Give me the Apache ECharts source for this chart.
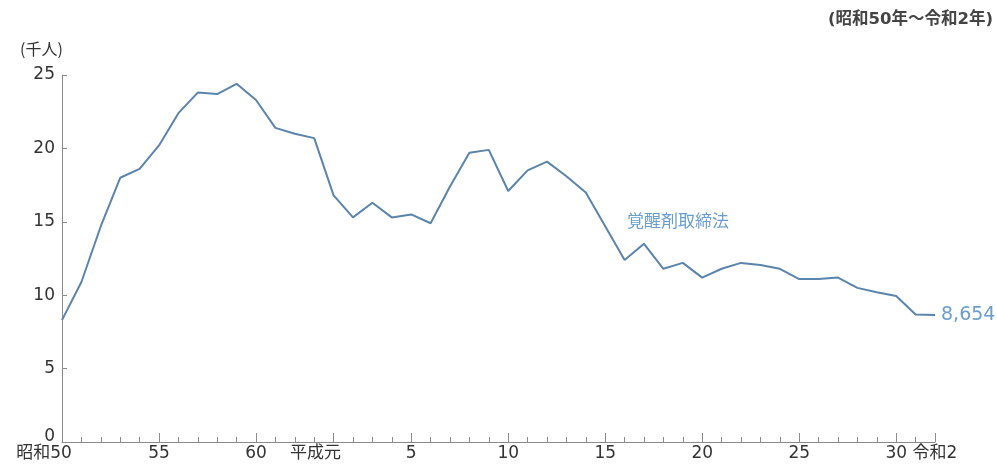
<!DOCTYPE html>
<html>
<head>
<meta charset="utf-8">
<script src="https://cdn.jsdelivr.net/npm/echarts@6/dist/echarts.min.js"></script>
<style>
  html, body { margin: 0; padding: 0; background: #fff; }
  #chart { width: 997px; height: 466px; }
</style>
</head>
<body>
<div id="chart"></div>
<script>
// Years: 昭和50 (1975) ... 令和2 (2020)
const categories = [
  '昭和50','51','52','53','54','55','56','57','58','59','60','61','62','63',
  '平成元','2','3','4','5','6','7','8','9','10','11','12','13','14','15','16',
  '17','18','19','20','21','22','23','24','25','26','27','28','29','30',
  '令和元','令和2'
];
// 覚醒剤取締法 検挙人員 (千人)
const stimulantArrests = [
  8.3, 10.9, 14.7, 18.0, 18.6, 20.2, 22.4, 23.8, 23.7, 24.4,
  23.3, 21.4, 21.0, 20.7, 16.8, 15.3, 16.3, 15.3, 15.5, 14.9,
  17.4, 19.7, 19.9, 17.1, 18.5, 19.1, 18.1, 17.0, 14.7, 12.4,
  13.5, 11.8, 12.2, 11.2, 11.8, 12.2, 12.05, 11.8, 11.1, 11.1,
  11.2, 10.5, 10.2, 9.95, 8.68, 8.654
];
// labelled positions on the x axis and their texts
const labelledIdx = [0, 5, 10, 14, 18, 23, 28, 33, 38, 43, 45];
const labelTexts = ['昭和50','55','60','平成元','5','10','15','20','25','30','令和2'];
const yTicks = [0, 5, 10, 15, 20, 25];
const seriesName = '覚醒剤取締法';
const unitLabel = '(千人)';
const periodLabel = '(昭和50年～令和2年)';

const FONT = '"DejaVu Sans", "Noto Sans CJK JP", sans-serif';
const CJK = '"Noto Sans CJK JP", sans-serif';
const TEXT = '#333333';
const LINE = '#5b84ad';
const LABELBLUE = '#6a9dd0';
const AXIS = '#8a8a8a';

const chart = echarts.init(document.getElementById('chart'));
const isLabelled = (i) => labelledIdx.indexOf(i) >= 0;

chart.setOption({
  animation: false,
  backgroundColor: '#ffffff',
  grid: { left: 62, right: 62, top: 75, bottom: 24, containLabel: false },
  xAxis: [
    {
      type: 'category',
      data: categories,
      boundaryGap: false,
      position: 'bottom',
      axisLine: { lineStyle: { color: AXIS, width: 1 } },
      axisTick: { show: true, inside: true, length: 5, interval: 0, lineStyle: { color: AXIS } },
      axisLabel: {
        interval: (i) => isLabelled(i),
        margin: 3,
        fontFamily: FONT,
        fontSize: 17,
        color: TEXT,
        formatter: (v, i) => {
          const k = labelledIdx.indexOf(i);
          if (k < 0) return '';
          if (i === 0 || i === 14) return labelTexts[k] + '{pad|}';
          return labelTexts[k];
        },
        rich: { pad: { width: 36 } }
      },
      splitLine: { show: false }
    },
    {
      type: 'category',
      data: categories,
      boundaryGap: false,
      position: 'bottom',
      gridIndex: 0,
      axisLine: { show: false },
      axisTick: { show: true, inside: true, length: 9, interval: (i) => isLabelled(i) && i !== 0, lineStyle: { color: AXIS } },
      axisLabel: { show: false },
      splitLine: { show: false }
    }
  ],
  yAxis: {
    type: 'value',
    min: 0,
    max: 25,
    interval: 5,
    axisLine: { show: true, lineStyle: { color: AXIS, width: 1 } },
    axisTick: { show: true, inside: true, length: 5, lineStyle: { color: AXIS } },
    axisLabel: {
      margin: 7,
      fontFamily: FONT,
      fontSize: 17,
      color: TEXT,
      formatter: (v) => {
        if (yTicks.indexOf(v) < 0) return '';
        return v === 0 ? '{z|0}' : String(v);
      },
      rich: { z: { fontFamily: FONT, fontSize: 17, color: TEXT, padding: [0, 0, 10, 0] } }
    },
    splitLine: { show: false }
  },
  series: [{
    name: seriesName,
    type: 'line',
    data: stimulantArrests,
    xAxisIndex: 0,
    showSymbol: false,
    symbol: 'none',
    lineStyle: { color: LINE, width: 2 },
    endLabel: {
      show: true,
      distance: 6,
      color: LABELBLUE,
      fontFamily: FONT,
      fontSize: 19,
      formatter: (p) => Math.round(p.value * 1000).toLocaleString('en-US')
    }
  }],
  graphic: [
    { type: 'text', left: 20, top: 41, style: { text: unitLabel, fontFamily: CJK, fontSize: 16, fill: TEXT } },
    { type: 'text', right: 4, top: 11, style: { text: periodLabel, fontFamily: FONT, fontSize: 16.5, fontWeight: 'bold', fill: '#444' } },
    { type: 'text', left: 627, top: 212, style: { text: seriesName, fontFamily: CJK, fontSize: 17, fill: LABELBLUE } }
  ]
});
</script>
</body>
</html>
